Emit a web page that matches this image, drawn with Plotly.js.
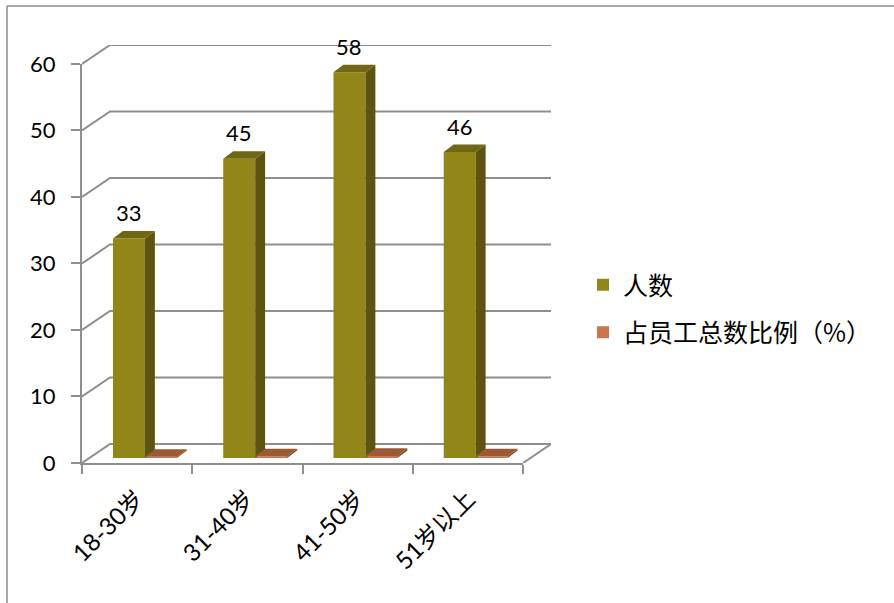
<!DOCTYPE html>
<html>
<head>
<meta charset="utf-8">
<script src="https://cdn.plot.ly/plotly-3.0.1.min.js"></script>
<style>html,body{margin:0;padding:0;background:#fff;}#chart{width:894px;height:603px;}</style>
</head>
<body>
<div id="chart"></div>
<script>
// ---- data ----
const categories = ['18-30岁', '31-40岁', '41-50岁', '51岁以上'];
const headcount = [33, 45, 58, 46];
const shareOfStaff = [0.18, 0.25, 0.32, 0.25];
const yTickValues = [0, 10, 20, 30, 40, 50, 60];
const seriesNames = ['人数', '占员工总数比例（%）'];

// ---- geometry / style constants ----
const DX = 0.254, DY = 2.857;        // wall depth (axis units)
const BAR_W = 0.29, OFF1 = -0.219, OFF2 = 0.071, BASE = 0.75;
const BDX = 0.09, BDY = 1.13;        // bar depth (axis units)
const GRID = '#8e8e8e';
const LATIN = 'Lato, "Noto Sans CJK SC", sans-serif';
const CJK = '"Noto Sans CJK SC", sans-serif';
const ML = 82, MR = 343, MT = 45, MB = 140, W = 894, H = 603;
const PW = W - ML - MR, PH = H - MT - MB;

const idx = categories.map((_, i) => i);

const shapes = [];
// back wall / side wall grid lines
yTickValues.forEach(v => {
  shapes.push({type: 'path', xref: 'x', yref: 'y', layer: 'below',
    path: `M${-0.5},${v} L${-0.5 + DX},${v + DY} L${3.5 + DX},${v + DY}`,
    line: {color: GRID, width: 2}});
});
// right floor edge
shapes.push({type: 'line', xref: 'x', yref: 'y', layer: 'below',
  x0: 3.5, y0: 0, x1: 3.5 + DX, y1: DY, line: {color: GRID, width: 2}});

function addBox(vals, off, topColor, sideColor) {
  vals.forEach((v, i) => {
    const x0 = i + off, x1 = i + off + BAR_W, b = BASE, t = BASE + v;
    shapes.push({type: 'path', xref: 'x2', yref: 'y2', layer: 'above',
      path: `M${x1},${b} L${x1 + BDX},${b + BDY} L${x1 + BDX},${t + BDY} L${x1},${t} Z`,
      fillcolor: sideColor, line: {width: 0}});
    shapes.push({type: 'path', xref: 'x2', yref: 'y2', layer: 'above',
      path: `M${x0},${t} L${x1},${t} L${x1 + BDX},${t + BDY} L${x0 + BDX},${t + BDY} Z`,
      fillcolor: topColor, line: {width: 0}});
  });
}
addBox(headcount, OFF1, '#6f6714', '#5c5410');
addBox(shareOfStaff, OFF2, '#9b5a34', '#7e4828');

// outer frame (top and left)
const px2x = p => (p - ML) / PW, px2y = p => (H - MB - p) / PH;
shapes.push({type: 'line', xref: 'paper', yref: 'paper', x0: px2x(7), x1: px2x(W), y0: px2y(6), y1: px2y(6), line: {color: '#8c8c8c', width: 1.5}});
shapes.push({type: 'line', xref: 'paper', yref: 'paper', x0: px2x(7), x1: px2x(7), y0: px2y(6), y1: px2y(H), line: {color: '#8c8c8c', width: 1.5}});

const annotations = headcount.map((v, i) => ({
  xref: 'x2', yref: 'y2', x: i + OFF1 + BAR_W / 2, y: BASE + v + BDY,
  text: String(v), showarrow: false, yanchor: 'bottom', yshift: 3,
  font: {family: LATIN, size: 22, color: '#000'}
}));

const traces = [
  {type: 'bar', name: seriesNames[0], x: idx, y: headcount, base: BASE,
   width: BAR_W, offset: OFF1, xaxis: 'x2', yaxis: 'y2', legendgroup: 'a',
   marker: {color: '#928618', line: {width: 0}}, hoverinfo: 'none'},
  {type: 'bar', name: seriesNames[1], x: idx, y: shareOfStaff, base: BASE,
   width: BAR_W, offset: OFF2, xaxis: 'x2', yaxis: 'y2', legendgroup: 'b',
   marker: {color: '#c8764a', line: {width: 0}}, hoverinfo: 'none'}
];

const layout = {
  width: W, height: H,
  margin: {l: ML, r: MR, t: MT, b: MB, autoexpand: false},
  paper_bgcolor: '#fff', plot_bgcolor: 'rgba(0,0,0,0)',
  barmode: 'overlay',
  showlegend: true,
  legend: {x: px2x(583), y: px2y(262), xanchor: 'left', yanchor: 'top',
    traceorder: 'grouped', tracegroupgap: 12,
    font: {family: CJK, size: 25, color: '#000'}, bgcolor: 'rgba(0,0,0,0)'},
  xaxis: {domain: [0, 1], range: [-0.5, 3.5 + DX], anchor: 'y',
    tickmode: 'array', tickvals: idx, ticktext: categories, tickangle: -45,
    ticks: '', showgrid: false, zeroline: false, showline: false,
    ticklabelstandoff: 16,
    tickfont: {family: LATIN, size: 24, color: '#000'}},
  yaxis: {domain: [0, 1], range: [0, 60 + DY], anchor: 'x', visible: false},
  xaxis2: {domain: [0, 4 / (4 + DX)], range: [-0.5, 3.5], anchor: 'y2',
    tickmode: 'array', tickvals: [-0.5, 0.5, 1.5, 2.5, 3.5], showticklabels: false,
    ticks: 'outside', ticklen: 9, tickwidth: 2, tickcolor: GRID,
    showline: true, linecolor: GRID, linewidth: 2, showgrid: false, zeroline: false},
  yaxis2: {domain: [0, 60 / (60 + DY)], range: [0, 60], anchor: 'x2',
    tickmode: 'array', tickvals: yTickValues,
    ticks: 'outside', ticklen: 9, tickwidth: 2, tickcolor: GRID,
    showline: true, linecolor: GRID, linewidth: 2, showgrid: false, zeroline: false,
    ticklabelstandoff: 11,
    tickfont: {family: LATIN, size: 22, color: '#000'}},
  shapes: shapes,
  annotations: annotations
};

Plotly.newPlot('chart', traces, layout, {displayModeBar: false, staticPlot: true});
</script>
</body>
</html>
